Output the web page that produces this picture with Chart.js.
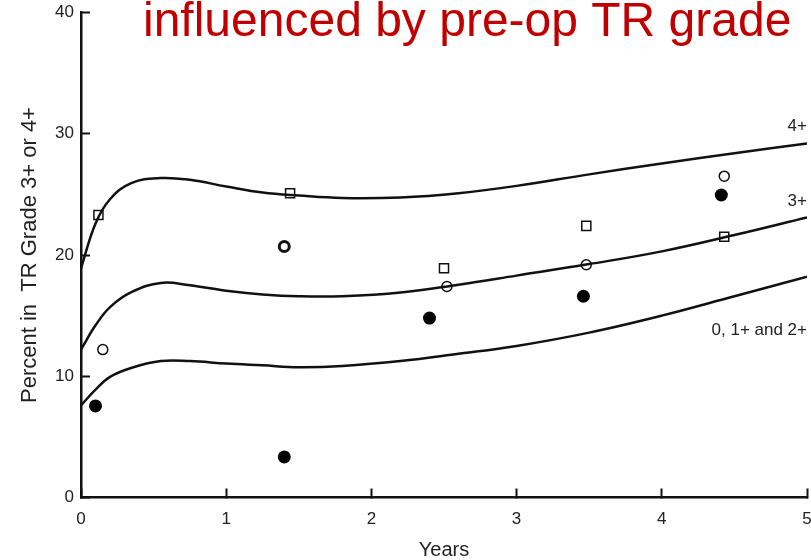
<!DOCTYPE html>
<html>
<head>
<meta charset="utf-8">
<script src="https://cdn.jsdelivr.net/npm/chart.js@4.4.1/dist/chart.umd.min.js"></script>
<style>
    body { margin: 0; background: #fff; }
    canvas { display: block; }
</style>
</head>
<body>
<canvas id="trChart" width="811" height="560"></canvas>
<script>
// Fitted curves at these years
let years = [0, 0.1, 0.2, 0.35, 0.55, 0.75, 1.0, 1.25, 1.5, 1.8, 2.2, 2.6, 3.0, 3.5, 4.0, 4.5, 5.0];
let curve4 = [18.9, 22.6, 24.6, 25.95, 26.35, 26.2, 25.65, 25.15, 24.9, 24.7, 24.75, 25.1, 25.7, 26.65, 27.55, 28.4, 29.2];
let curve3 = [12.2, 14.2, 15.7, 16.95, 17.7, 17.5, 17.05, 16.75, 16.6, 16.6, 16.9, 17.55, 18.3, 19.25, 20.3, 21.65, 23.1];
let curve012 = [7.6, 8.9, 9.95, 10.7, 11.25, 11.25, 11.05, 10.9, 10.75, 10.85, 11.25, 11.85, 12.5, 13.6, 15.0, 16.6, 18.2];
let curveNames = ['4+', '3+', '0, 1+ and 2+'];

// Observed points
let squareX = [0.12, 1.44, 2.5, 3.48, 4.43];
let squareY = [23.3, 25.1, 18.9, 22.4, 21.5];
let openX = [0.15, 1.40, 2.52, 3.48, 4.43];
let openY = [12.2, 20.7, 17.4, 19.2, 26.5];
let filledX = [0.10, 1.40, 2.40, 3.46, 4.41];
let filledY = [7.55, 3.35, 14.8, 16.6, 24.95];

let xTicks = [0, 1, 2, 3, 4, 5];
let yTicks = [0, 10, 20, 30, 40];

const toPoints = (xs, ys) => xs.map((x, i) => ({ x: x, y: ys[i] }));

const curveStyle = {
    showLine: true,
    pointRadius: 0,
    borderColor: '#111',
    borderWidth: 2.5,
    tension: 0.4,
    fill: false
};

// titles and curve names drawn on top
const textPlugin = {
    id: 'texts',
    afterDraw(chart) {
        let ctx = chart.ctx;
        let xs = chart.scales.x;
        let ys = chart.scales.y;
        ctx.save();
        ctx.fillStyle = '#c00000';
        ctx.font = '48px "Liberation Sans", Arial, sans-serif';
        ctx.textAlign = 'left';
        ctx.textBaseline = 'alphabetic';
        ctx.fillText('influenced by pre-op TR grade', 143, 36);

        ctx.fillStyle = '#222';
        ctx.font = '17px "Liberation Sans", Arial, sans-serif';
        ctx.textAlign = 'right';
        ctx.textBaseline = 'middle';
        let labelY = [30.6, 24.4, 13.8];
        curveNames.forEach((name, i) => {
            ctx.fillText(name, xs.getPixelForValue(5), ys.getPixelForValue(labelY[i]));
        });
        ctx.restore();
    }
};

let ctx = document.getElementById('trChart');
let trChart = new Chart(ctx, {
    type: 'scatter',
    data: {
        datasets: [
            Object.assign({ label: curveNames[0], data: toPoints(years, curve4) }, curveStyle),
            Object.assign({ label: curveNames[1], data: toPoints(years, curve3) }, curveStyle),
            Object.assign({ label: curveNames[2], data: toPoints(years, curve012) }, curveStyle),
            {
                label: 'squares',
                data: toPoints(squareX, squareY),
                pointStyle: 'rect',
                pointRadius: 6.4,
                borderColor: '#111',
                borderWidth: 1.5,
                backgroundColor: 'rgba(0,0,0,0)'
            },
            {
                label: 'open',
                data: toPoints(openX, openY),
                pointStyle: 'circle',
                pointRadius: 5,
                borderColor: '#111',
                borderWidth: [1.5, 3, 1.5, 1.5, 1.5],
                backgroundColor: 'rgba(0,0,0,0)'
            },
            {
                label: 'filled',
                data: toPoints(filledX, filledY),
                pointStyle: 'circle',
                pointRadius: 6.5,
                borderWidth: 0,
                backgroundColor: '#000'
            }
        ]
    },
    options: {
        responsive: false,
        animation: false,
        devicePixelRatio: 1,
        layout: { autoPadding: false, padding: { left: 0, top: 12.5, right: 4, bottom: 0 } },
        plugins: {
            legend: { display: false },
            tooltip: { enabled: false }
        },
        scales: {
            x: {
                type: 'linear',
                min: 0,
                max: 5,
                afterBuildTicks: (s) => { s.ticks = xTicks.map(v => ({ value: v })); },
                afterFit: (s) => { s.height = 62.5; s.paddingLeft = 0; s.paddingRight = 0; },
                border: { display: true, color: '#111', width: 2.5 },
                grid: { drawOnChartArea: false, color: '#111', tickLength: -9, tickWidth: 2 },
                ticks: {
                    padding: 21,
                    color: '#222',
                    font: { family: '"Liberation Sans", Arial, sans-serif', size: 17 }
                },
                title: {
                    display: true,
                    text: 'Years',
                    color: '#222',
                    padding: { top: 0, bottom: 0 },
                    font: { family: '"Liberation Sans", Arial, sans-serif', size: 20, lineHeight: 1 }
                }
            },
            y: {
                min: 0,
                max: 40,
                afterBuildTicks: (s) => { s.ticks = yTicks.map(v => ({ value: v })); },
                afterFit: (s) => { s.width = 81; s.paddingTop = 0; s.paddingBottom = 0; },
                border: { display: true, color: '#111', width: 2.5 },
                grid: { drawOnChartArea: false, color: '#111', tickLength: -9, tickWidth: 2 },
                ticks: {
                    padding: 16,
                    color: '#222',
                    font: { family: '"Liberation Sans", Arial, sans-serif', size: 17 }
                },
                title: {
                    display: true,
                    text: 'Percent in  TR Grade 3+ or 4+',
                    color: '#222',
                    padding: { top: 17, bottom: 0 },
                    font: { family: '"Liberation Sans", Arial, sans-serif', size: 22, lineHeight: 1.2 }
                }
            }
        }
    },
    plugins: [textPlugin]
});
</script>
</body>
</html>
